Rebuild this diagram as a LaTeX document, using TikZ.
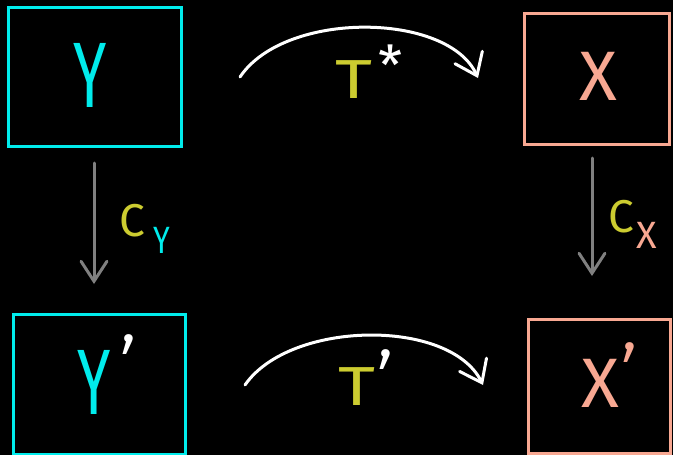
\documentclass[tikz,border=0pt]{standalone}
\usepackage{fontspec}
\setmainfont{Fira Sans}
\newfontfamily\thinfont{Fira Sans Light}
\usetikzlibrary{arrows.meta}
\definecolor{cy}{RGB}{0,236,236}
\definecolor{sal}{RGB}{248,168,146}
\definecolor{yel}{RGB}{204,204,48}
\definecolor{gr}{RGB}{128,128,128}
\newcommand\narrow[1]{\scalebox{0.65}[1]{#1}}
\newcommand\wideT[1]{\scalebox{1.3}[1]{#1}}
\tikzset{
  every node/.style={inner sep=0pt, outer sep=0pt},
  box/.style={draw=#1, line width=3pt, rectangle},
  big/.style={font=\fontsize{93}{93}\selectfont},
  mid/.style={font=\fontsize{70}{70}\selectfont},
  primefont/.style={font=\thinfont\fontsize{93}{93}\selectfont},
  tee/.style={font=\fontsize{55}{55}\selectfont, text=yel},
  cee/.style={font=\fontsize{46}{46}\selectfont, text=yel},
  sub/.style={font=\fontsize{38}{38}\selectfont},
  maparrow/.style={draw=white, line width=3pt, line cap=round,
    -{Straight Barb[length=20pt,width=30pt,line cap=round]}},
  grayarrow/.style={draw=gr, line width=3pt, line cap=round,
    -{Straight Barb[length=20pt,width=26pt,line cap=round]}},
}
\begin{document}
\begin{tikzpicture}[x=1pt,y=-1pt]
\fill[black] (0,0) rectangle (673,455);
\useasboundingbox (0,0) rectangle (673,455);
% boxes
\node[box=cy, minimum width=173pt, minimum height=139pt] (Y) at (95,76.5) {};
\node[box=sal, minimum width=145pt, minimum height=131pt] (X) at (596.5,78.5) {};
\node[box=cy, minimum width=172pt, minimum height=140pt] (Yp) at (99,384) {};
\node[box=sal, minimum width=142pt, minimum height=134pt] (Xp) at (599,386) {};
% box texts
\node[big, text=cy] (Ylab) at (90,75) {\narrow{Y}};
\node[mid, text=sal] (Xlab) at (598,76) {X};
\node[big, text=cy] (Yplab) at (94,382) {\narrow{Y}};
\node[primefont, text=white, anchor=north] (Ypprime) at (129,335) {’};
\node[mid, text=sal] (Xplab) at (600,383) {X};
\node[primefont, text=sal, anchor=north] (Xpprime) at (630,343) {’};
% arrow labels
\node[tee] (Tstar) at (354,80) {\wideT{T}};
\node[tee, text=white, anchor=north] (star) at (391,45) {*};
\node[tee] (Tp) at (357,387) {\wideT{T}};
\node[primefont, text=white, anchor=north] (Tpprime) at (386,350) {’};
\node[cee] (CY) at (132,221) {C};
\node[sub, text=cy] (CYsub) at (162,240) {\scalebox{0.8}[1]{Y}};
\node[cee] (CX) at (621,217) {C};
\node[sub, text=sal] (CXsub) at (647,235) {X};
% connector end points
\coordinate (a1) at (240,77);
\coordinate (a2) at (478,78);
\coordinate (b1) at (245,385);
\coordinate (b2) at (483,385);
\coordinate (c1) at (94,163);
\coordinate (c2) at (94,284);
\coordinate (d1) at (592,158);
\coordinate (d2) at (592,276);
% connectors
\draw[maparrow] (a1) .. controls (285,10) and (448,12) .. (a2);
\draw[maparrow] (b1) .. controls (290,320) and (450,318) .. (b2);
\draw[grayarrow] (c1) -- (c2);
\draw[grayarrow] (d1) -- (d2);
\end{tikzpicture}
\end{document}
